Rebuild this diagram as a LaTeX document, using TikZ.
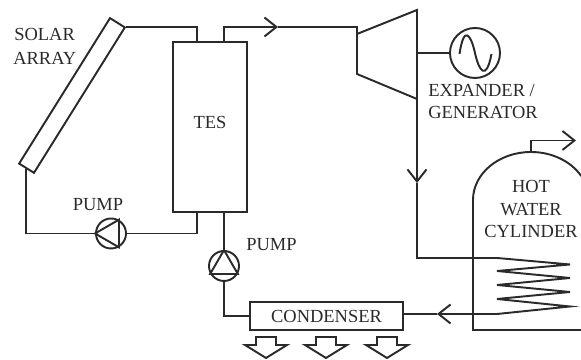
\documentclass[tikz,border=0pt]{standalone}
\usepackage{fontspec}
\setmainfont{Liberation Serif}
\usetikzlibrary{arrows.meta}
\definecolor{ink}{HTML}{2A2A2A}
\tikzset{
	pipe/.style={line width=1.1pt, draw=ink},
	barb/.style={pipe, -{Straight Barb[length=0.24cm, width=0.38cm]}},
	label/.style={font=\fontsize{10.5}{12}\selectfont, text=ink, inner sep=0pt},
	pumpc/.style={shape=circle, pipe, inner sep=0pt, minimum size=0.6cm}
}
\begin{document}
\begin{tikzpicture}
	\useasboundingbox (0, 0) rectangle (11.62, 7.2);
	% solar loop
	\node[shape=rectangle, pipe, rotate=58, minimum width=3.43cm, minimum height=0.35cm, inner sep=0pt](panel) at (1.44, 5.29){};
	\node[shape=rectangle, pipe, minimum width=1.48cm, minimum height=3.4cm](tes) at (4.2, 4.66){};
	\node[label, anchor=base] (tesl) at (4.2, 4.62){TES};
	\node[pumpc](pumpa) at (2.22, 2.53){};
	\node[pumpc](pumpb) at (4.48, 1.88){};
	\draw[pipe] (pumpa.west) -- (pumpa.60) -- (pumpa.-60) -- cycle;
	\draw[pipe] (pumpb.north) -- (pumpb.210) -- (pumpb.330) -- cycle;
	\coordinate (tesa) at (3.94, 6.36);
	\coordinate (tesb) at (4.48, 6.36);
	\coordinate (tesc) at (3.94, 2.96);
	\coordinate (tesd) at (4.48, 2.96);
	\draw[pipe] (panel.south east) -| (tesa);
	\draw[pipe] (panel.west) |- (pumpa.west);
	\draw[pipe] (pumpa.east) -| (tesc);
	\draw[pipe] (tesd) -- (pumpb.north);
	\node[label, anchor=base west] (solarl) at (0.28, 6.38){SOLAR};
	\node[label, anchor=base west] (arrayl) at (0.26, 5.9){ARRAY};
	\node[label, anchor=base] (pumpal) at (1.96, 2.98){PUMP};
	\node[label, anchor=base west] (pumpbl) at (4.92, 2.18){PUMP};
	% expander and generator
	\coordinate (exin) at (7.14, 6.66);
	\coordinate (exa) at (7.14, 6.52);
	\coordinate (exb) at (8.34, 7);
	\coordinate (exc) at (8.34, 5.22);
	\coordinate (exd) at (7.14, 5.72);
	\coordinate (flowa) at (5.56, 6.66);
	\draw[barb] (tesb) |- (flowa);
	\draw[pipe] (flowa) -- (exin) -- (exd) -- (exc) -- (exb) -- (exa);
	\node[shape=circle, pipe, inner sep=0pt, minimum size=1cm](gen) at (9.5, 6.14){};
	\coordinate (shaft) at (8.34, 6.14);
	\draw[pipe] (shaft) -- (gen.west);
	\draw[pipe] ([shift={(-0.31, -0.02)}]gen.center) .. controls ([shift={(-0.22, 0.58)}]gen.center) and ([shift={(-0.08, 0.36)}]gen.center) .. (gen.center) .. controls ([shift={(0.08, -0.36)}]gen.center) and ([shift={(0.22, -0.58)}]gen.center) .. ([shift={(0.33, -0.02)}]gen.center);
	\node[label, anchor=base west] (expl) at (8.56, 5.26){EXPANDER /};
	\node[label, anchor=base west] (genl) at (8.56, 4.82){GENERATOR};
	% hot water cylinder
	\coordinate (flowb) at (8.34, 3.54);
	\coordinate (coila) at (9.94, 2.04);
	\coordinate (coilb) at (9.94, 0.92);
	\coordinate (top) at (10.62, 4.16);
	\coordinate (vent) at (11.52, 4.39);
	\draw[barb] (exc) -- (flowb);
	\draw[pipe] (flowb) |- (coila) -- (11.4, 1.91) -- (9.94, 1.78) -- (11.4, 1.64) -- (9.94, 1.5) -- (11.4, 1.36) -- (9.94, 1.22) -- (11.4, 1.07) -- (coilb);
	\draw[pipe] (11.62, 0.6) -- (9.46, 0.6) -- (9.46, 3.2) arc[start angle=180, end angle=30, x radius=1.16, y radius=0.96];
	\draw[barb] (top) |- (vent);
	\node[label, anchor=base] (hotl) at (10.62, 3.34){HOT};
	\node[label, anchor=base] (waterl) at (10.62, 2.88){WATER};
	\node[label, anchor=base] (cyll) at (10.62, 2.44){CYLINDER};
	% condenser
	\node[shape=rectangle, pipe, minimum width=3.06cm, minimum height=0.56cm, inner sep=0pt](cond) at (6.53, 0.88){};
	\node[label, anchor=base] (condl) at (6.53, 0.74){CONDENSER};
	\coordinate (flowc) at (8.74, 0.92);
	\draw[barb] (coilb) -- (flowc);
	\draw[pipe] (flowc) -- (cond.east |- flowc);
	\draw[pipe] (pumpb.south) |- (cond.west);
	\foreach \x in {5.32, 6.52, 7.74}
		\draw[pipe] (\x-0.2, 0.46) -- (\x+0.2, 0.46) -- (\x+0.2, 0.3) -- (\x+0.42, 0.3) -- (\x, 0.04) -- (\x-0.42, 0.3) -- (\x-0.2, 0.3) -- cycle;
\end{tikzpicture}
\end{document}
